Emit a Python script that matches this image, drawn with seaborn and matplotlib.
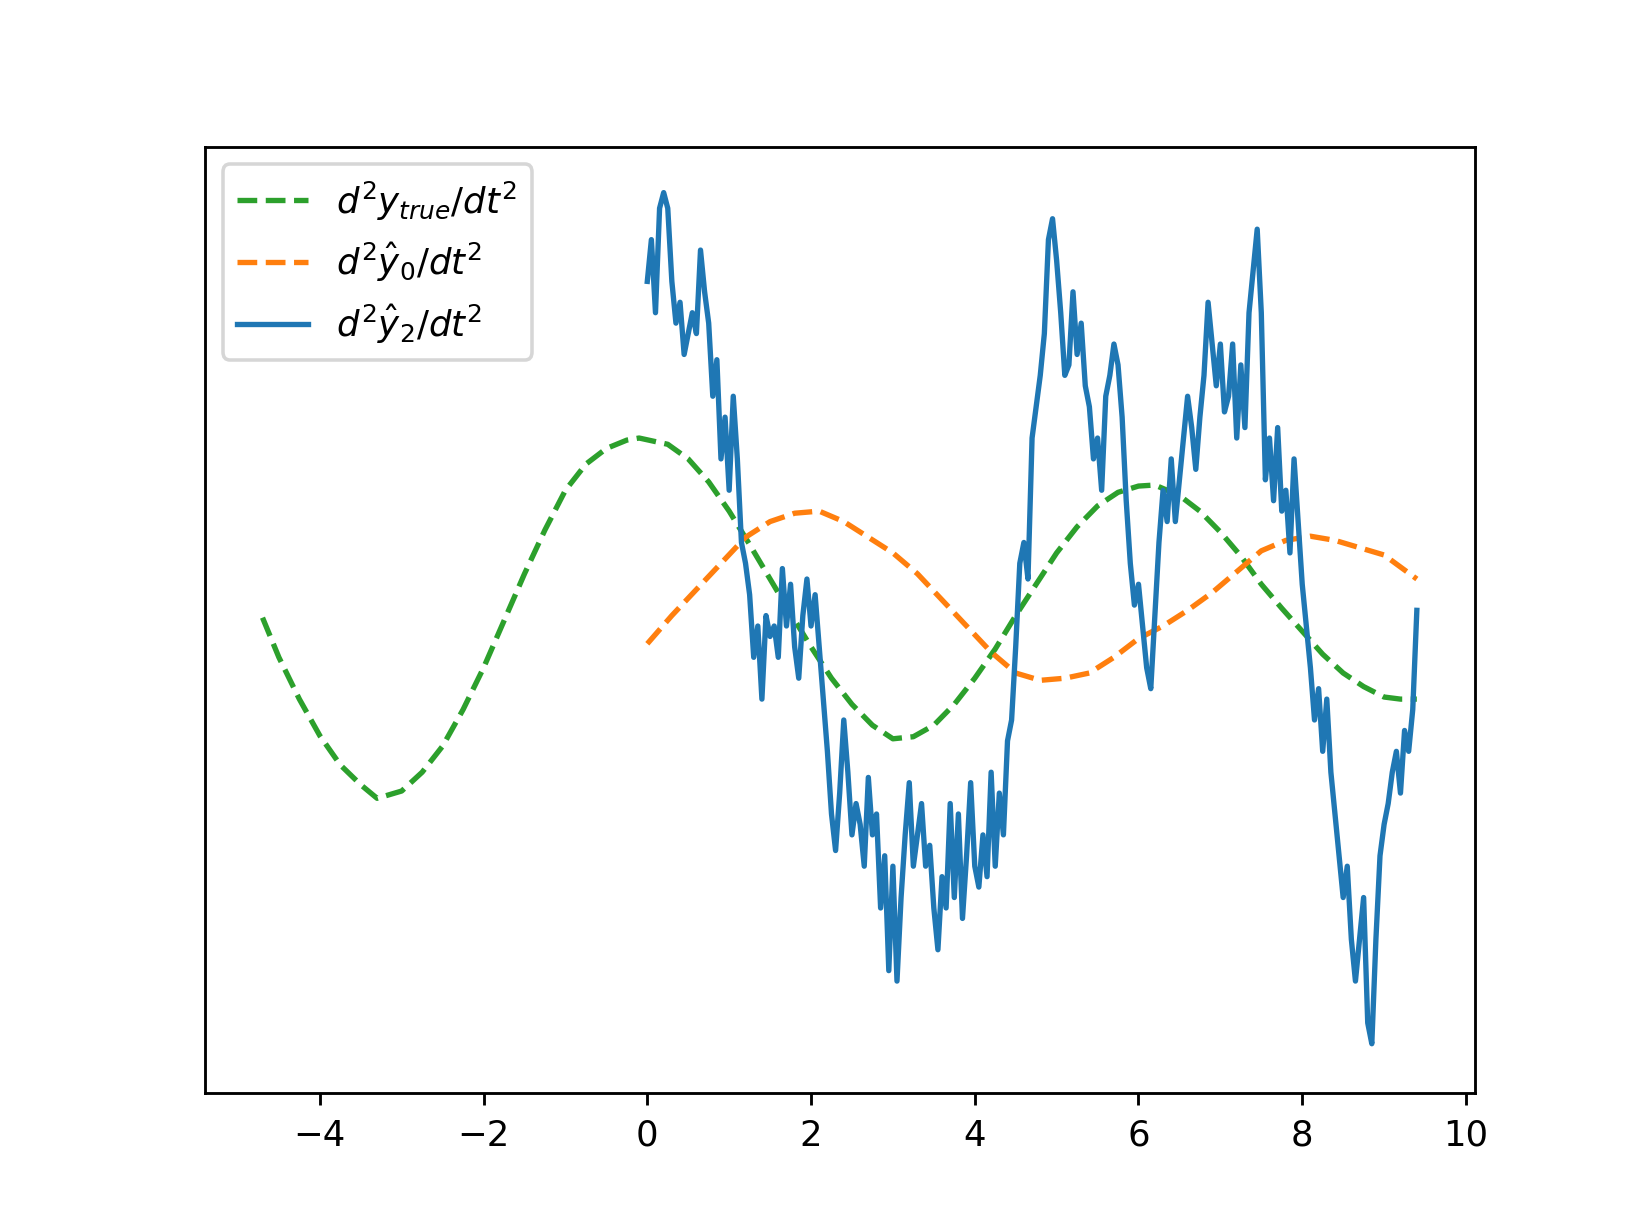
import matplotlib
matplotlib.use("Agg")
import matplotlib.pyplot as plt
import seaborn as sns
import numpy as np

# values read in picture units (larger = lower on chart)
green_x = [-4.7,-4.5,-4.25,-4,-3.75,-3.5,-3.3,-3,-2.75,-2.5,-2.25,-2,-1.75,-1.5,-1.25,-1,-0.75,-0.5,-0.25,-0.1,0.25,0.5,0.75,1,1.25,1.5,1.75,2,2.25,2.5,2.75,3,3.25,3.5,3.75,4,4.25,4.5,4.75,5,5.25,5.5,5.75,6,6.2,6.5,6.75,7,7.25,7.5,7.75,8,8.25,8.5,8.75,9,9.2,9.4]
green_y = [592,630,670,705,733,752,765,758,740,715,680,640,595,550,508,470,445,430,422,420,426,440,462,490,522,555,588,620,650,675,695,708,706,695,675,650,622,590,560,530,505,485,472,466,465,475,490,510,533,560,583,605,627,645,658,668,670,670]

orange_x = [0,0.3,0.6,0.9,1.2,1.5,1.8,2.1,2.4,2.7,3,3.3,3.6,3.9,4.2,4.5,4.8,5.1,5.4,5.7,6,6.3,6.6,6.9,7.2,7.5,7.8,8.1,8.4,8.7,9,9.4]
orange_y = [617,590,565,540,515,500,492,490,500,515,530,550,575,600,625,645,652,650,645,630,612,600,585,568,548,528,518,514,518,525,532,555]

blue_x = [round(0.05*i, 2) for i in range(189)]
blue_y = [270,230,300,200,185,200,270,310,290,340,320,300,320,240,280,310,380,345,440,400,
          470,380,440,520,540,570,630,600,670,590,610,600,630,545,600,560,620,650,590,555,
          600,570,620,670,720,780,815,760,690,740,800,770,790,830,745,800,780,870,820,930,
          830,940,860,800,750,830,800,770,830,810,870,910,840,870,770,860,780,880,820,750,
          830,850,800,840,740,830,760,800,710,690,620,540,520,555,420,390,360,320,230,210,
          250,300,360,350,280,340,310,370,390,440,420,470,380,360,330,350,400,480,540,580,
          560,600,640,660,590,520,470,500,440,500,460,420,380,410,450,400,360,290,330,370,
          330,395,380,330,420,350,410,300,260,220,300,460,420,480,410,490,470,530,440,500,
          560,600,640,690,660,720,670,740,780,820,860,830,900,940,900,860,980,1000,900,820,
          790,770,740,720,760,700,720,680,585]
blue_y = blue_y[:len(blue_x)]

fig, ax = plt.subplots(figsize=(6.4, 4.8), dpi=256)
sns.lineplot(x=green_x, y=green_y, ax=ax, color="tab:green", linestyle="--", label=r"$d^2y_{true}/dt^2$")
sns.lineplot(x=orange_x, y=orange_y, ax=ax, color="tab:orange", linestyle="--", label=r"$d^2\hat{y}_0/dt^2$")
sns.lineplot(x=blue_x, y=blue_y, ax=ax, color="tab:blue", label=r"$d^2\hat{y}_2/dt^2$")
ax.set_ylim(1047, 141)
ax.set_yticks([])
ax.legend(loc="upper left")
fig.savefig("out.png", dpi=256)
